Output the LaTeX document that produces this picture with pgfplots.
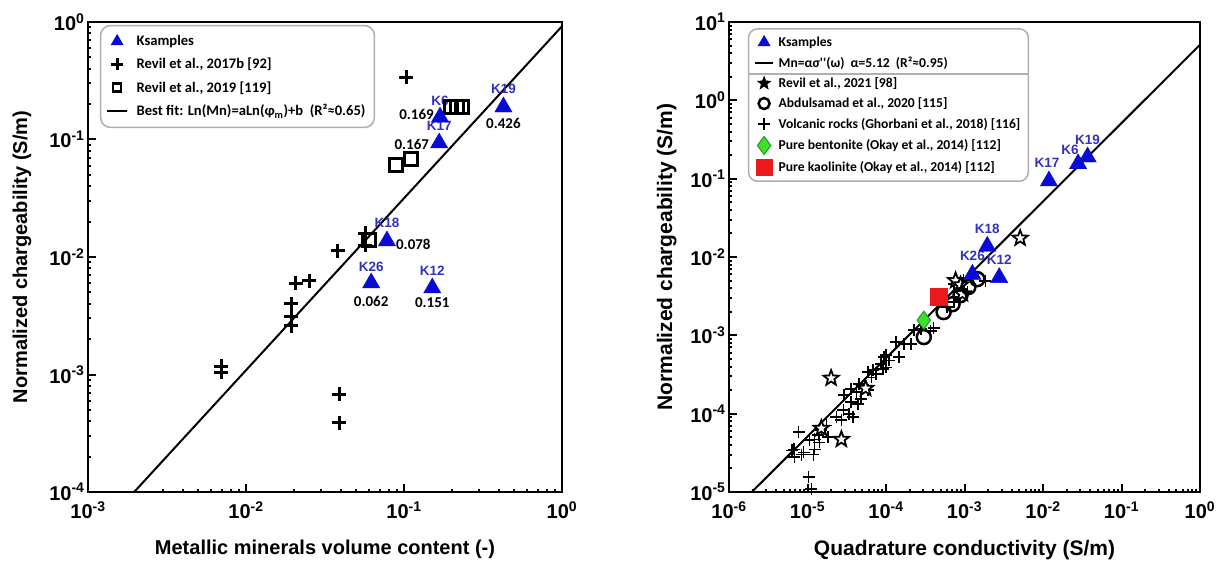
\documentclass[border=0pt]{standalone}
\usepackage{fontspec}
\setmainfont{Liberation Sans}
\newfontfamily\calib{Carlito}
\usepackage{pgfplots}
\pgfplotsset{compat=1.18}

\definecolor{kblue}{RGB}{10,10,215}
\definecolor{klab}{RGB}{50,50,190}
\definecolor{bgreen}{RGB}{60,225,40}
\definecolor{bgreenD}{RGB}{40,150,40}
\definecolor{kred}{RGB}{235,25,25}
\definecolor{legframe}{RGB}{175,175,175}

% filled five-point star
\pgfdeclareplotmark{pentastar}{%
  \pgfpathmoveto{\pgfpointpolar{90}{\pgfplotmarksize}}%
  \pgfpathlineto{\pgfpointpolar{126}{0.42\pgfplotmarksize}}%
  \pgfpathlineto{\pgfpointpolar{162}{\pgfplotmarksize}}%
  \pgfpathlineto{\pgfpointpolar{198}{0.42\pgfplotmarksize}}%
  \pgfpathlineto{\pgfpointpolar{234}{\pgfplotmarksize}}%
  \pgfpathlineto{\pgfpointpolar{270}{0.42\pgfplotmarksize}}%
  \pgfpathlineto{\pgfpointpolar{306}{\pgfplotmarksize}}%
  \pgfpathlineto{\pgfpointpolar{342}{0.42\pgfplotmarksize}}%
  \pgfpathlineto{\pgfpointpolar{18}{\pgfplotmarksize}}%
  \pgfpathlineto{\pgfpointpolar{54}{0.42\pgfplotmarksize}}%
  \pgfpathclose
  \pgfusepathqfillstroke
}

\pgfplotsset{
  every axis/.append style={
    scale only axis, height=470pt,
    axis line style={line width=2.5pt},
    tick align=inside, xtick pos=bottom, ytick pos=left,
    major tick length=8pt, tick style={line width=2pt, black},
    ticklabel style={font=\bfseries\fontsize{20}{20}\selectfont},
    xticklabel style={yshift=-6pt},
    label style={font=\bfseries\fontsize{20}{20}\selectfont},
    legend cell align=left,
  },
}
\tikzset{
  klabel/.style={text=klab, font=\bfseries\fontsize{13.5}{13.5}\selectfont, inner sep=0pt},
  vlabel/.style={font=\calib\bfseries\fontsize{15}{15}\selectfont, inner sep=0pt},
}

\begin{document}
\begin{tikzpicture}
\path[use as bounding box] (-88pt,-69pt) rectangle (1140pt,492pt);

% ---------------- left panel ----------------
\begin{axis}[xmode=log, ymode=log, width=474pt,
    xmin=1e-3, xmax=1, ymin=1e-4, ymax=1,
    xtick={1e-3,1e-2,1e-1,1}, minor xtick={}, minor ytick={},
    xticklabels={10\textsuperscript{-3},10\textsuperscript{-2},10\textsuperscript{-1},10\textsuperscript{0}},
    ytick={1e-4,1e-3,1e-2,1e-1,1},
    yticklabels={10\textsuperscript{-4},10\textsuperscript{-3},10\textsuperscript{-2},10\textsuperscript{-1},10\textsuperscript{0}},
    xlabel={Metallic minerals volume content (-)},
    ylabel={Normalized chargeability (S/m)},
    xlabel style={at={(axis description cs:0.5,-0.123)}, anchor=center},
    ylabel style={at={(axis description cs:-0.139,0.5)}, anchor=center},
    legend style={at={(axis description cs:0.025,0.994)}, anchor=north west,
      draw=legframe, line width=1.5pt, rounded corners=10pt,
      font=\calib\bfseries\fontsize{14.6}{14.6}\selectfont,
      row sep=7pt, column sep=8pt, inner xsep=7pt, inner ysep=8pt},
  ]
  \addlegendimage{only marks, mark=triangle*, mark size=6pt, color=kblue}
  \addlegendentry{Ksamples}
  \addlegendimage{only marks, mark=+, mark size=6pt, line width=3pt, black}
  \addlegendentry{Revil et al., 2017b [92]}
  \addlegendimage{only marks, mark=square, mark size=4pt, line width=2.5pt, black}
  \addlegendentry{Revil et al., 2019 [119]}
  \addlegendimage{line width=2pt, black}
  \addlegendentry{Best fit: Ln(Mn)=aLn(φ\textsubscript{m})+b\ \ (R²≈0.65)}

  % best fit
  \addplot[forget plot, line width=2pt, black] coordinates {(0.00196,1e-4) (1,0.92)};

  % Revil et al., 2017b
  \addplot[forget plot, only marks, mark=+, mark size=7pt, line width=3pt, black] coordinates {
    (0.103,0.340) (0.057,0.0160) (0.057,0.0126) (0.0382,0.0113)
    (0.0207,0.0060) (0.0251,0.0063) (0.0193,0.0040) (0.0193,0.0031)
    (0.0193,0.0026) (0.00695,0.00117) (0.00695,0.00105)
    (0.0388,6.8e-4) (0.0388,3.9e-4)
  };

  % Revil et al., 2019
  \addplot[forget plot, only marks, mark=square, mark size=6.5pt, line width=2.5pt, black] coordinates {
    (0.0889,0.0607) (0.111,0.0683) (0.198,0.189) (0.216,0.189) (0.233,0.189) (0.060,0.0140)
  };

  % Ksamples
  \addplot[forget plot, only marks, mark=triangle*, mark size=10pt, color=kblue] coordinates {
    (0.426,0.189) (0.169,0.155) (0.167,0.0934) (0.078,0.0137) (0.062,0.00601) (0.151,0.00545)
  };

  \node[klabel, yshift=18pt] at (axis cs:0.426,0.189) {K19};
  \node[vlabel, yshift=-16pt] at (axis cs:0.426,0.189) {0.426};
  \node[klabel, yshift=16pt] at (axis cs:0.169,0.155) {K6};
  \node[vlabel, anchor=east, xshift=-6pt, yshift=3pt] at (axis cs:0.169,0.155) {0.169};
  \node[klabel, yshift=17pt] at (axis cs:0.167,0.0934) {K17};
  \node[vlabel, anchor=east, xshift=-10pt, yshift=-1pt] at (axis cs:0.167,0.0934) {0.167};
  \node[klabel, yshift=18pt] at (axis cs:0.078,0.0137) {K18};
  \node[vlabel, anchor=west, xshift=9pt, yshift=-3pt] at (axis cs:0.078,0.0137) {0.078};
  \node[klabel, yshift=16pt] at (axis cs:0.062,0.00601) {K26};
  \node[vlabel, yshift=-18pt] at (axis cs:0.062,0.00601) {0.062};
  \node[klabel, yshift=17pt] at (axis cs:0.151,0.00545) {K12};
  \node[vlabel, yshift=-15pt] at (axis cs:0.151,0.00545) {0.151};
\end{axis}

% ---------------- right panel ----------------
\begin{axis}[xmode=log, ymode=log, at={(641pt,0pt)}, width=471pt,
    xmin=1e-6, xmax=1, ymin=1e-5, ymax=10, minor xtick={}, minor ytick={},
    xtick={1e-6,1e-5,1e-4,1e-3,1e-2,1e-1,1},
    xticklabels={10\textsuperscript{-6},10\textsuperscript{-5},10\textsuperscript{-4},10\textsuperscript{-3},10\textsuperscript{-2},10\textsuperscript{-1},10\textsuperscript{0}},
    ytick={1e-5,1e-4,1e-3,1e-2,1e-1,1,10},
    yticklabels={10\textsuperscript{-5},10\textsuperscript{-4},10\textsuperscript{-3},10\textsuperscript{-2},10\textsuperscript{-1},10\textsuperscript{0},10\textsuperscript{1}},
    xlabel={Quadrature conductivity (S/m)},
    ylabel={Normalized chargeability (S/m)},
    label style={font=\bfseries\fontsize{21}{21}\selectfont},
    xlabel style={at={(axis description cs:0.5,-0.123)}, anchor=center},
    ylabel style={at={(axis description cs:-0.132,0.5)}, anchor=center},
    legend style={name=rleg, at={(axis description cs:0.040,0.987)}, anchor=north west,
      draw=legframe, line width=1.5pt, rounded corners=9pt,
      font=\calib\bfseries\fontsize{13.6}{13.6}\selectfont,
      row sep=4.8pt, column sep=3pt, inner xsep=6pt, inner ysep=6pt},
  ]
  \addlegendimage{only marks, mark=triangle*, mark size=6pt, color=kblue}
  \addlegendentry{Ksamples}
  \addlegendimage{line width=2pt, black}
  \addlegendentry{Mn=ασ''(ω)\ \ α=5.12\ \ (R²≈0.95)}
  \addlegendimage{only marks, mark=pentastar, mark size=7pt, line width=0.5pt, black, fill=black}
  \addlegendentry{Revil et al., 2021 [98]}
  \addlegendimage{only marks, mark=o, mark size=5.5pt, line width=2.5pt, black}
  \addlegendentry{Abdulsamad et al., 2020 [115]}
  \addlegendimage{only marks, mark=+, mark size=6pt, line width=2pt, black}
  \addlegendentry{Volcanic rocks (Ghorbani et al., 2018) [116]}
  \addlegendimage{only marks, mark=diamond*, mark size=9pt, line width=1pt, draw=bgreenD, fill=bgreen}
  \addlegendentry{Pure bentonite (Okay et al., 2014) [112]}
  \addlegendimage{only marks, mark=square*, mark size=8pt, line width=0.5pt, draw=kred, fill=kred}
  \addlegendentry{Pure kaolinite (Okay et al., 2014) [112]}

  % Mn = 5.12 sigma''
  \addplot[forget plot, line width=2pt, black] coordinates {(1.953e-6,1e-5) (1,5.12)};

  % Volcanic rocks (Ghorbani et al., 2018)
  \addplot[forget plot, only marks, mark=+, mark size=6pt, line width=1.6pt, black] coordinates {
    (1.34e-4,8.2e-4) (1.69e-4,7.7e-4) (2.07e-4,7.7e-4) (1.00e-4,5.6e-4) (1.46e-4,5.3e-4)
    (1.09e-4,4.8e-4) (8.6e-5,4.3e-4) (1.00e-4,3.9e-4) (5.9e-5,3.4e-4) (7.5e-5,3.2e-4)
    (6.5e-5,2.9e-4) (4.5e-5,2.4e-4) (5.3e-5,2.2e-4) (3.6e-5,2.06e-4) (4.2e-5,1.88e-4)
    (2.9e-5,1.72e-4) (5.9e-5,2.0e-4) (4.8e-5,1.53e-4) (3.6e-5,1.40e-4) (4.4e-5,1.32e-4)
    (2.86e-5,1.11e-4) (3.4e-5,9.9e-5) (2.33e-5,9.0e-5) (2.7e-5,8.3e-5) (3.8e-5,9.0e-5)
    (1.74e-5,7.1e-5) (1.5e-5,6.2e-5) (1.38e-5,5.3e-5) (1.23e-5,4.7e-5) (1.84e-5,5.0e-5)
    (1.42e-5,4.3e-5) (1.06e-5,4.6e-5) (7.7e-6,5.8e-5) (1.23e-5,3.5e-5) (8.9e-6,3.2e-5)
    (6.7e-6,3.5e-5) (6.8e-6,2.8e-5) (1.19e-5,3.0e-5) (8.4e-6,3.0e-5) (6.3e-6,3.4e-5)
    (1.03e-5,1.55e-5) (1.12e-5,1.09e-5) (2.26e-4,1.16e-3) (2.77e-4,1.2e-3) (3.7e-4,1.13e-3)
    (4.05e-4,1.24e-3) (7.3e-4,2.65e-3) (8.9e-4,3.08e-3) (7.3e-4,4.5e-3) (9.7e-4,5.07e-3)
    (1.09e-3,3.56e-3) (8.9e-4,3.9e-3) (1.85e-3,4.9e-3) (1.3e-3,5.9e-3) (9.4e-5,5.3e-4)
    (9.2e-5,3.7e-4) (6.8e-5,3.6e-4) (6.0e-4,2.3e-3)
  };

  % Revil et al., 2021
  \addplot[forget plot, only marks, mark=pentastar, mark size=8pt, line width=1.8pt, black, fill=white] coordinates {
    (5.12e-3,1.74e-2) (2.0e-5,2.84e-4) (2.7e-5,4.7e-5) (7.7e-4,5.0e-3)
    (8.9e-4,4.4e-3) (9.4e-4,3.4e-3) (1.5e-5,6.5e-5) (5.5e-5,2.1e-4)
  };

  % Abdulsamad et al., 2020
  \addplot[forget plot, only marks, mark=o, mark size=7pt, line width=2.5pt, black] coordinates {
    (3.03e-4,9.5e-4) (5.42e-4,1.98e-3) (7.05e-4,2.5e-3) (8.9e-4,3.26e-3) (1.12e-3,4.13e-3) (1.46e-3,5.22e-3)
  };

  % Pure bentonite / kaolinite
  \addplot[forget plot, only marks, mark=diamond*, mark size=9pt, line width=1pt, draw=bgreenD, fill=bgreen] coordinates {(3.03e-4,1.56e-3)};
  \addplot[forget plot, only marks, mark=square*, mark size=8.5pt, line width=0.5pt, draw=kred, fill=kred] coordinates {(4.69e-4,3.08e-3)};

  % Ksamples
  \addplot[forget plot, only marks, mark=triangle*, mark size=10pt, color=kblue] coordinates {
    (0.037,0.189) (0.028,0.155) (0.0119,0.0934) (0.00195,0.0137) (0.00126,0.00601) (0.00277,0.00545)
  };

  \node[klabel, yshift=17pt, xshift=0pt] at (axis cs:0.037,0.189) {K19};
  \node[klabel, yshift=14pt, xshift=-8pt] at (axis cs:0.028,0.155) {K6};
  \node[klabel, yshift=18pt, xshift=-2pt] at (axis cs:0.0119,0.0934) {K17};
  \node[klabel, yshift=17pt] at (axis cs:0.00195,0.0137) {K18};
  \node[klabel, yshift=18pt] at (axis cs:0.00126,0.00601) {K26};
  \node[klabel, yshift=18pt] at (axis cs:0.00277,0.00545) {K12};

  \coordinate (sep) at (axis description cs:0,0.889);
\end{axis}
\draw[legframe, line width=1.5pt] (rleg.west |- sep) -- (rleg.east |- sep);
\end{tikzpicture}
\end{document}
